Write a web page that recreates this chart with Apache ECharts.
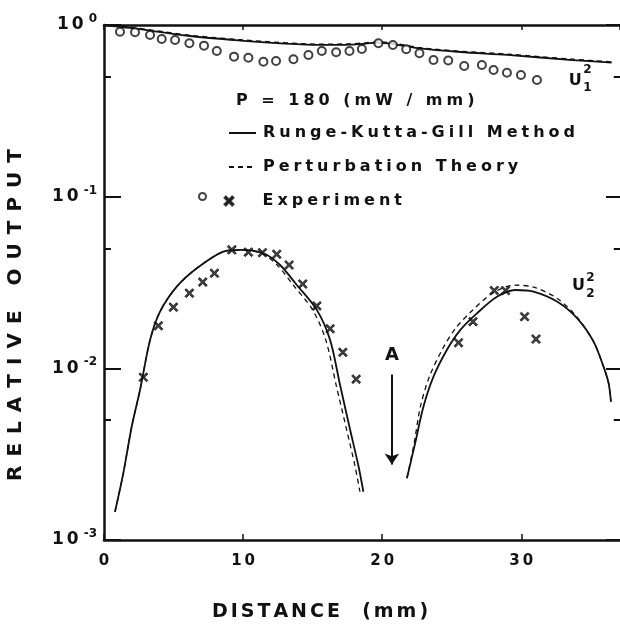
<!DOCTYPE html>
<html>
<head>
<meta charset="utf-8">
<title>Relative output vs distance</title>
<script src="https://cdn.jsdelivr.net/npm/echarts@6/dist/echarts.min.js"></script>
<style>
    html, body { margin: 0; padding: 0; background: #fff; }
</style>
</head>
<body>
<div id="chartmain" style="width: 620px; height: 634px;"></div>
<script type="text/javascript">
    // U1^2 curves
    var rkgU1X = [0, 1.9, 6.2, 9.8, 12.7, 15.5, 17.7, 18.8, 19.7, 20.9, 22.7, 25.6, 29.0, 33.7, 36.5];
    var rkgU1Y = [1.0, 0.961, 0.863, 0.812, 0.782, 0.765, 0.768, 0.778, 0.790, 0.772, 0.730, 0.696, 0.669, 0.625, 0.603];
    var ptU1Y  = [1.0, 0.971, 0.872, 0.821, 0.791, 0.774, 0.777, 0.787, 0.799, 0.781, 0.739, 0.704, 0.677, 0.632, 0.610];

    // U2^2 curves, first lobe
    var rkgU2aX = [0.79, 1.39, 1.99, 2.59, 3.31, 4.03, 5.23, 6.67, 8.58, 9.78, 11.46, 12.66, 13.86, 15.30, 16.26, 16.98, 17.70, 18.30, 18.65];
    var ptU2aX  = [0.79, 1.39, 1.99, 2.59, 3.31, 4.03, 5.23, 6.67, 8.58, 9.70, 11.30, 12.45, 13.60, 15.00, 15.95, 16.70, 17.45, 18.05, 18.40];
    var u2aY    = [1.46e-3, 2.45e-3, 4.57e-3, 7.48e-3, 1.46e-2, 2.14e-2, 2.99e-2, 3.83e-2, 4.79e-2, 4.90e-2, 4.68e-2, 4.00e-2, 3.06e-2, 2.19e-2, 1.46e-2, 7.94e-3, 4.37e-3, 2.69e-3, 1.91e-3];

    // U2^2 curves, second lobe
    var rkgU2bX = [21.78, 22.37, 22.97, 23.69, 24.65, 25.61, 26.81, 28.25, 29.57, 30.88, 32.57, 34.01, 35.2, 35.92, 36.28, 36.45];
    var rkgU2bY = [2.29e-3, 3.66e-3, 5.99e-3, 8.95e-3, 1.28e-2, 1.67e-2, 2.09e-2, 2.61e-2, 2.86e-2, 2.80e-2, 2.45e-2, 1.96e-2, 1.43e-2, 1.02e-2, 8.19e-3, 6.40e-3];
    var ptU2bX  = [21.78, 22.3, 22.75, 23.4, 24.35, 25.3, 26.5, 28.0, 29.5, 30.9, 32.6, 34.0, 35.2, 35.92, 36.28, 36.45];
    var ptU2bY  = [2.29e-3, 3.66e-3, 5.99e-3, 8.95e-3, 1.30e-2, 1.72e-2, 2.18e-2, 2.76e-2, 3.05e-2, 2.97e-2, 2.55e-2, 1.99e-2, 1.43e-2, 1.02e-2, 8.19e-3, 6.40e-3];

    // experiment, U1^2 (circles)
    var expU1X = [1.15, 2.23, 3.31, 4.15, 5.11, 6.14, 7.19, 8.11, 9.35, 10.38, 11.46, 12.37, 13.62, 14.70, 15.66,
                  16.69, 17.65, 18.54, 19.73, 20.77, 21.73, 22.68, 23.69, 24.75, 25.90, 27.17, 28.01, 28.97, 29.98, 31.13];
    var expU1Y = [0.914, 0.907, 0.875, 0.829, 0.818, 0.782, 0.758, 0.706, 0.654, 0.645, 0.611, 0.617, 0.631, 0.669, 0.706,
                  0.694, 0.706, 0.725, 0.782, 0.765, 0.722, 0.684, 0.625, 0.621, 0.577, 0.585, 0.547, 0.527, 0.511, 0.478];

    // experiment, U2^2 (crosses)
    var expU2X = [2.83, 3.91, 4.99, 6.14, 7.10, 7.94, 9.19, 10.38, 11.39, 12.42, 13.31, 14.29, 15.30, 16.26, 17.17, 18.13,
                  25.49, 26.53, 28.06, 28.87, 30.24, 31.06];
    var expU2Y = [8.87e-3, 1.77e-2, 2.27e-2, 2.74e-2, 3.18e-2, 3.58e-2, 4.90e-2, 4.75e-2, 4.72e-2, 4.62e-2, 4.00e-2, 3.10e-2, 2.31e-2, 1.70e-2, 1.24e-2, 8.65e-3,
                  1.41e-2, 1.87e-2, 2.84e-2, 2.84e-2, 2.00e-2, 1.48e-2];

    // axis settings
    var xMin = 0, xMax = 37.1, xStep = 10;
    var yMin = 0.001, yMax = 1;
    var minorTicks = [0.005, 0.05, 0.5];

    // arrow "A" (distance, top, bottom)
    var arrowX = 20.7, arrowTop = 9.2e-3, arrowBottom = 2.75e-3;

    var FONT = 'DejaVu Sans';
    var INK = '#111';

    // the drawing uses wide lettering: extra space between letters, by font size
    var SPACING = {15: 3, 16: 4, 17: 3, 19: 3, 20: 9};
    (function () {
        var proto = CanvasRenderingContext2D.prototype;
        var baseFill = proto.fillText;
        proto.fillText = function (text, x, y, maxWidth) {
            var m = /(\d+)px/.exec(this.font);
            var sp = m ? SPACING[m[1]] : 0;
            text = String(text);
            if (!sp || text.length < 2) {
                if (maxWidth === undefined) return baseFill.call(this, text, x, y);
                return baseFill.call(this, text, x, y, maxWidth);
            }
            var widths = [], total = 0, i;
            for (i = 0; i < text.length; i++) {
                widths.push(this.measureText(text[i]).width);
                total += widths[i];
            }
            total += sp * (text.length - 1);
            var align = this.textAlign;
            var cx = x;
            if (align === 'center') cx = x - total / 2;
            else if (align === 'right' || align === 'end') cx = x - total;
            this.textAlign = 'left';
            for (i = 0; i < text.length; i++) {
                baseFill.call(this, text[i], cx, y);
                cx += widths[i] + sp;
            }
            this.textAlign = align;
        };
    })();

    function zip(xs, ys) {
        var out = [];
        for (var i = 0; i < xs.length; i++) {
            out.push([xs[i], ys[i]]);
        }
        return out;
    }

    function label(name, x, y, size) {
        return {name: name, coord: [x, y], label: {fontSize: size, lineHeight: size}};
    }

    // short minor tick marks at 5 x 10^n, both sides
    function minorTickLines() {
        var out = [];
        for (var i = 0; i < minorTicks.length; i++) {
            out.push([{coord: [xMin, minorTicks[i]]}, {coord: [xMin + 0.5, minorTicks[i]]}]);
            out.push([{coord: [xMax - 0.45, minorTicks[i]]}, {coord: [xMax, minorTicks[i]]}]);
        }
        return out;
    }

    var crossPath = 'path://M0,1.5L1.5,0L5,3.5L8.5,0L10,1.5L6.5,5L10,8.5L8.5,10L5,6.5L1.5,10L0,8.5L3.5,5Z';

    var markText = {
        symbol: 'circle',
        symbolSize: 0,
        silent: true,
        itemStyle: {color: 'rgba(0,0,0,0)'},
        label: {show: true, position: 'inside', formatter: '{b}', color: INK, fontFamily: FONT, fontWeight: 'bold'}
    };

    function solid(name, data, extra) {
        var s = {
            name: name, type: 'line', smooth: 0.3, symbol: 'none',
            lineStyle: {color: INK, width: 1.8}, itemStyle: {color: INK},
            data: data, z: 3
        };
        for (var k in extra) s[k] = extra[k];
        return s;
    }

    function dashed(name, data, extra) {
        var s = {
            name: name, type: 'line', smooth: 0.3, symbol: 'none',
            lineStyle: {color: INK, width: 1.3, type: [5, 4]}, itemStyle: {color: INK},
            data: data, z: 2
        };
        for (var k in extra) s[k] = extra[k];
        return s;
    }

    var myChart = echarts.init(document.getElementById('chartmain'), null, {renderer: 'canvas'});

    var option = {
        animation: false,
        backgroundColor: '#fff',
        textStyle: {fontFamily: FONT, fontWeight: 'bold', color: INK},
        title: {
            text: 'P = 180 (mW / mm)',
            left: 236, top: 93, padding: 0,
            textStyle: {fontSize: 16, fontFamily: FONT, fontWeight: 'bold', color: INK}
        },
        grid: {left: 104, right: 0, top: 25, bottom: 94, containLabel: false, outerBoundsMode: 'none'},
        legend: [{
            data: ['Runge-Kutta-Gill Method', 'Perturbation Theory'],
            orient: 'vertical', left: 228, top: 124, padding: 0,
            itemWidth: 27, itemHeight: 14, itemGap: 16,
            itemStyle: {opacity: 0},
            textStyle: {fontSize: 16, fontFamily: FONT, fontWeight: 'bold', color: INK, lineHeight: 18, padding: [0, 0, 0, 2]}
        }, {
            data: ['Experiment'],
            orient: 'vertical', left: 223.5, top: 192, padding: 0,
            itemWidth: 9, itemHeight: 9,
            textStyle: {fontSize: 16, fontFamily: FONT, fontWeight: 'bold', color: INK, lineHeight: 18, padding: [0, 0, 0, 24]}
        }, {
            data: ['Experiment U1'],
            orient: 'vertical', left: 198, top: 192, padding: 0,
            itemWidth: 10, itemHeight: 7,
            formatter: function () { return ''; },
            textStyle: {fontSize: 16, lineHeight: 18}
        }],
        xAxis: [{
            type: 'value', min: xMin, max: xMax, interval: xStep, position: 'bottom',
            axisLine: {show: true, onZero: false, lineStyle: {color: INK, width: 2.5}},
            axisTick: {show: true, inside: true, length: 6, lineStyle: {color: INK, width: 1.5}},
            axisLabel: {show: true, fontSize: 15, fontFamily: FONT, fontWeight: 'bold', color: INK, margin: 14, showMaxLabel: false},
            splitLine: {show: false},
            name: 'DISTANCE  (mm)', nameLocation: 'middle', nameGap: 63,
            nameTextStyle: {fontSize: 19, fontFamily: FONT, fontWeight: 'bold', color: INK, padding: [0, 84, 0, 0]}
        }, {
            type: 'value', min: xMin, max: xMax, interval: xStep, position: 'top',
            axisLine: {show: true, onZero: false, lineStyle: {color: INK, width: 2.5}},
            axisTick: {show: true, inside: true, length: 5, lineStyle: {color: INK, width: 1.5}},
            axisLabel: {show: false},
            splitLine: {show: false}
        }],
        yAxis: [{
            type: 'log', logBase: 10, min: yMin, max: yMax, position: 'left',
            axisLine: {show: true, onZero: false, lineStyle: {color: INK, width: 2.5}},
            axisTick: {show: true, inside: true, length: 17, lineStyle: {color: INK, width: 2}},
            axisLabel: {
                show: true,
                margin: 7,
                formatter: function (v) {
                    var e = Math.round(Math.log10(v));
                    return '{b|10}{e|' + e + '}';
                },
                rich: {
                    b: {fontSize: 17, fontFamily: FONT, fontWeight: 'bold', color: INK},
                    e: {fontSize: 12, fontFamily: FONT, fontWeight: 'bold', color: INK, padding: [0, 0, 12, 5]}
                }
            },
            splitLine: {show: false},
            minorTick: {show: false},
            name: 'RELATIVE OUTPUT', nameLocation: 'middle', nameRotate: 90, nameGap: 78,
            nameTextStyle: {fontSize: 20, fontFamily: FONT, fontWeight: 'bold', color: INK, padding: [0, 65, 0, 0]}
        }, {
            type: 'log', logBase: 10, min: yMin, max: yMax, position: 'right',
            axisLine: {show: false, onZero: false},
            axisTick: {show: true, inside: true, length: 14, lineStyle: {color: INK, width: 2}},
            axisLabel: {show: false},
            splitLine: {show: false},
            minorTick: {show: false}
        }],
        series: [
            solid('Runge-Kutta-Gill Method', zip(rkgU1X, rkgU1Y), {
                markPoint: Object.assign({}, markText, {
                    data: [label('U', 33.88, 0.472, 16), label('2', 34.75, 0.545, 12), label('1', 34.75, 0.430, 12)]
                })
            }),
            solid('Runge-Kutta-Gill Method', zip(rkgU2aX, u2aY), {
                markLine: {
                    silent: true,
                    symbol: ['none', 'arrow'],
                    symbolSize: 11,
                    lineStyle: {color: INK, width: 2, type: 'solid'},
                    itemStyle: {color: INK},
                    label: {show: true, position: 'start', distance: 10, formatter: 'A',
                            fontSize: 18, fontFamily: FONT, fontWeight: 'bold', color: INK},
                    data: [[{coord: [arrowX, arrowTop]}, {coord: [arrowX, arrowBottom]}]]
                }
            }),
            solid('Runge-Kutta-Gill Method', zip(rkgU2bX, rkgU2bY), {
                markPoint: Object.assign({}, markText, {
                    data: [label('U', 34.12, 0.0302, 16), label('2', 34.98, 0.0338, 12), label('2', 34.98, 0.0272, 12)]
                })
            }),
            dashed('Perturbation Theory', zip(rkgU1X, ptU1Y), {
                markLine: {
                    silent: true,
                    symbol: ['none', 'none'],
                    lineStyle: {color: INK, width: 2, type: 'solid'},
                    label: {show: false},
                    data: minorTickLines()
                }
            }),
            dashed('Perturbation Theory', zip(ptU2aX, u2aY)),
            dashed('Perturbation Theory', zip(ptU2bX, ptU2bY)),
            {
                name: 'Experiment U1', type: 'scatter',
                symbol: 'emptyCircle', symbolSize: 8,
                itemStyle: {color: INK, borderColor: INK, borderWidth: 2},
                data: zip(expU1X, expU1Y), z: 4
            },
            {
                name: 'Experiment', type: 'scatter',
                symbol: crossPath, symbolSize: 9,
                itemStyle: {color: INK, borderColor: INK, borderWidth: 1},
                data: zip(expU2X, expU2Y), z: 4
            }
        ]
    };

    myChart.setOption(option);
</script>
</body>
</html>
